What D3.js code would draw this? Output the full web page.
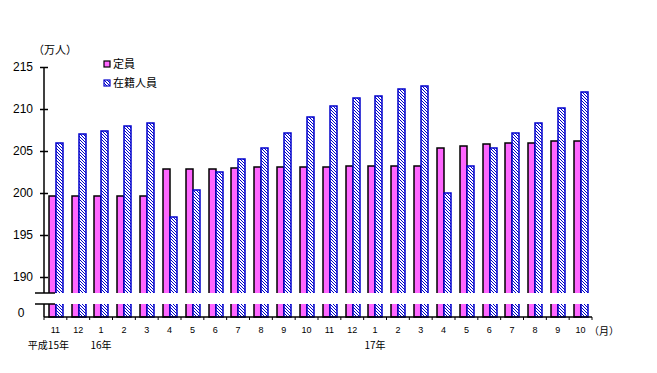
<!DOCTYPE html>
<html>
<head>
<meta charset="utf-8">
<script src="https://cdn.jsdelivr.net/npm/d3@7.9.0/dist/d3.min.js"></script>
<style>
  body { margin: 0; background: #fff; }
  svg { display: block; font-family: "Liberation Sans", "Noto Sans CJK JP", sans-serif; }
  .jp { font-family: "Noto Sans CJK JP", sans-serif; }
</style>
</head>
<body>
<svg id="chart" width="657" height="373"></svg>
<script>
// --- data ---
const months = ['11', '12', '1', '2', '3', '4', '5', '6', '7', '8', '9', '10',
                '11', '12', '1', '2', '3', '4', '5', '6', '7', '8', '9', '10'];
const teiin = [199.6, 199.6, 199.7, 199.7, 199.7, 202.9, 202.9, 202.9, 203.0, 203.1, 203.1, 203.1,
               203.1, 203.2, 203.2, 203.2, 203.2, 205.3, 205.6, 205.8, 206.0, 206.0, 206.2, 206.2];
const zaiseki = [206.0, 207.0, 207.4, 208.0, 208.3, 197.2, 200.4, 202.5, 204.1, 205.3, 207.1, 209.0,
                 210.3, 211.3, 211.6, 212.35, 212.7, 200.0, 203.2, 205.3, 207.1, 208.3, 210.1, 212.0];
const seriesNames = ['定員', '在籍人員'];
const yTicks = [190, 195, 200, 205, 210, 215];
const years = [['平成15年', 0], ['16年', 2], ['17年', 14]];

const rows = months.map((m, i) => ({ i, m, values: [teiin[i], zaiseki[i]] }));

// --- layout ---
const svg = d3.select('#chart');
const axisX = 44, plotRight = 592;
const baseY = 317, breakTop = 293, breakBottom = 304;

const x0 = d3.scaleBand().domain(d3.range(months.length))
  .range([axisX, plotRight]).paddingInner(0.41).paddingOuter(0.205);
const x1 = d3.scaleBand().domain([0, 1]).range([0, 14]);
const y = d3.scaleLinear().domain([190, 215]).range([277, 67]);

// blue hatch pattern (pixel aligned), pink is a flat tone of the magenta check
const defs = svg.append('defs');
const hatch = defs.append('pattern').attr('id', 'blueHatch')
  .attr('patternUnits', 'userSpaceOnUse').attr('width', 3).attr('height', 3);
hatch.append('rect').attr('width', 3).attr('height', 3).attr('fill', '#fff');
[[0, 0], [1, 1], [2, 2]].forEach(([px, py]) => {
  hatch.append('rect').attr('x', px).attr('y', py).attr('width', 1).attr('height', 1)
    .attr('fill', '#0000cc');
});

const fills = ['#ff66ff', 'url(#blueHatch)'];
const strokes = ['#000', '#0000cc'];

// --- bars ---
const groups = svg.append('g').selectAll('g').data(rows).join('g')
  .attr('transform', d => `translate(${Math.round(x0(d.i))},0)`);
groups.selectAll('rect').data(d => d.values.map((v, k) => ({ v, k }))).join('rect')
  .attr('x', d => x1(d.k))
  .attr('y', d => Math.round(y(d.v)))
  .attr('width', x1.bandwidth())
  .attr('height', d => baseY - Math.round(y(d.v)))
  .attr('fill', d => fills[d.k])
  .attr('stroke', d => strokes[d.k])
  .attr('stroke-width', 1.5);

// gap of the broken axis
svg.append('rect').attr('x', 30).attr('y', breakTop).attr('width', plotRight - 30)
  .attr('height', breakBottom - breakTop).attr('fill', '#fff');

// --- y axis (upper part) ---
const yAxis = svg.append('g').attr('transform', `translate(${axisX},0)`)
  .call(d3.axisLeft(y).tickValues(yTicks).tickSize(4).tickSizeOuter(0).tickPadding(7));
yAxis.select('.domain').remove();
yAxis.append('line').attr('x1', 0).attr('x2', 0).attr('y1', y(215)).attr('y2', breakTop)
  .attr('stroke', '#000').attr('stroke-width', 1.5);
yAxis.selectAll('.tick line').attr('x1', -4).attr('x2', 4).attr('stroke-width', 1.5);
yAxis.selectAll('.tick text').attr('font-size', 12).attr('fill', '#000');

// lower part with zero
const low = svg.append('g').attr('transform', `translate(${axisX},0)`);
low.append('line').attr('x1', 0).attr('x2', 0).attr('y1', breakBottom).attr('y2', baseY)
  .attr('stroke', '#000').attr('stroke-width', 1.5);
[breakTop, breakBottom].forEach(yy => {
  low.append('line').attr('x1', -9).attr('x2', 11).attr('y1', yy).attr('y2', yy)
    .attr('stroke', '#000').attr('stroke-width', 1.5);
});
svg.append('text').attr('x', 21).attr('y', 313).attr('dy', '0.35em')
  .attr('text-anchor', 'middle').attr('font-size', 12).text('0');

// --- x axis ---
const xAxis = svg.append('g').attr('transform', `translate(0,${baseY})`)
  .call(d3.axisBottom(x0).tickSize(0).tickPadding(10).tickFormat(i => months[i]));
xAxis.select('.domain').remove();
xAxis.selectAll('.tick text').attr('font-size', 9).attr('fill', '#000');
xAxis.append('line').attr('x1', axisX).attr('x2', plotRight).attr('y1', 0).attr('y2', 0)
  .attr('stroke', '#000').attr('stroke-width', 1.5);
xAxis.selectAll('.bound').data(d3.range(months.length + 1)).join('line')
  .attr('class', 'bound')
  .attr('x1', i => axisX + i * x0.step()).attr('x2', i => axisX + i * x0.step())
  .attr('y1', 0).attr('y2', 3).attr('stroke', '#000');

svg.append('text').attr('class', 'jp').attr('x', 589).attr('y', 331).attr('dy', '0.35em')
  .attr('font-size', 10).text('（月）');

svg.selectAll('.year').data(years).join('text')
  .attr('class', 'year jp')
  .attr('x', (d, k) => x0(d[1]) + x0.bandwidth() / 2 - (k === 0 ? 7 : 0))
  .attr('y', 345).attr('dy', '0.35em').attr('text-anchor', 'middle')
  .attr('font-size', 10).text(d => d[0]);

// unit
svg.append('text').attr('class', 'jp').attr('x', 33).attr('y', 50).attr('dy', '0.35em')
  .attr('font-size', 11).text('（万人）');

// --- legend ---
const legend = svg.append('g').attr('transform', 'translate(104,61)');
seriesNames.forEach((name, k) => {
  const row = legend.append('g').attr('transform', `translate(0,${k * 19})`);
  row.append('rect').attr('width', 6).attr('height', 6)
    .attr('fill', fills[k]).attr('stroke', strokes[k]).attr('stroke-width', 1.2);
  row.append('text').attr('class', 'jp').attr('x', 9).attr('y', 3).attr('dy', '0.35em')
    .attr('font-size', 11).text(name);
});
</script>
</body>
</html>
